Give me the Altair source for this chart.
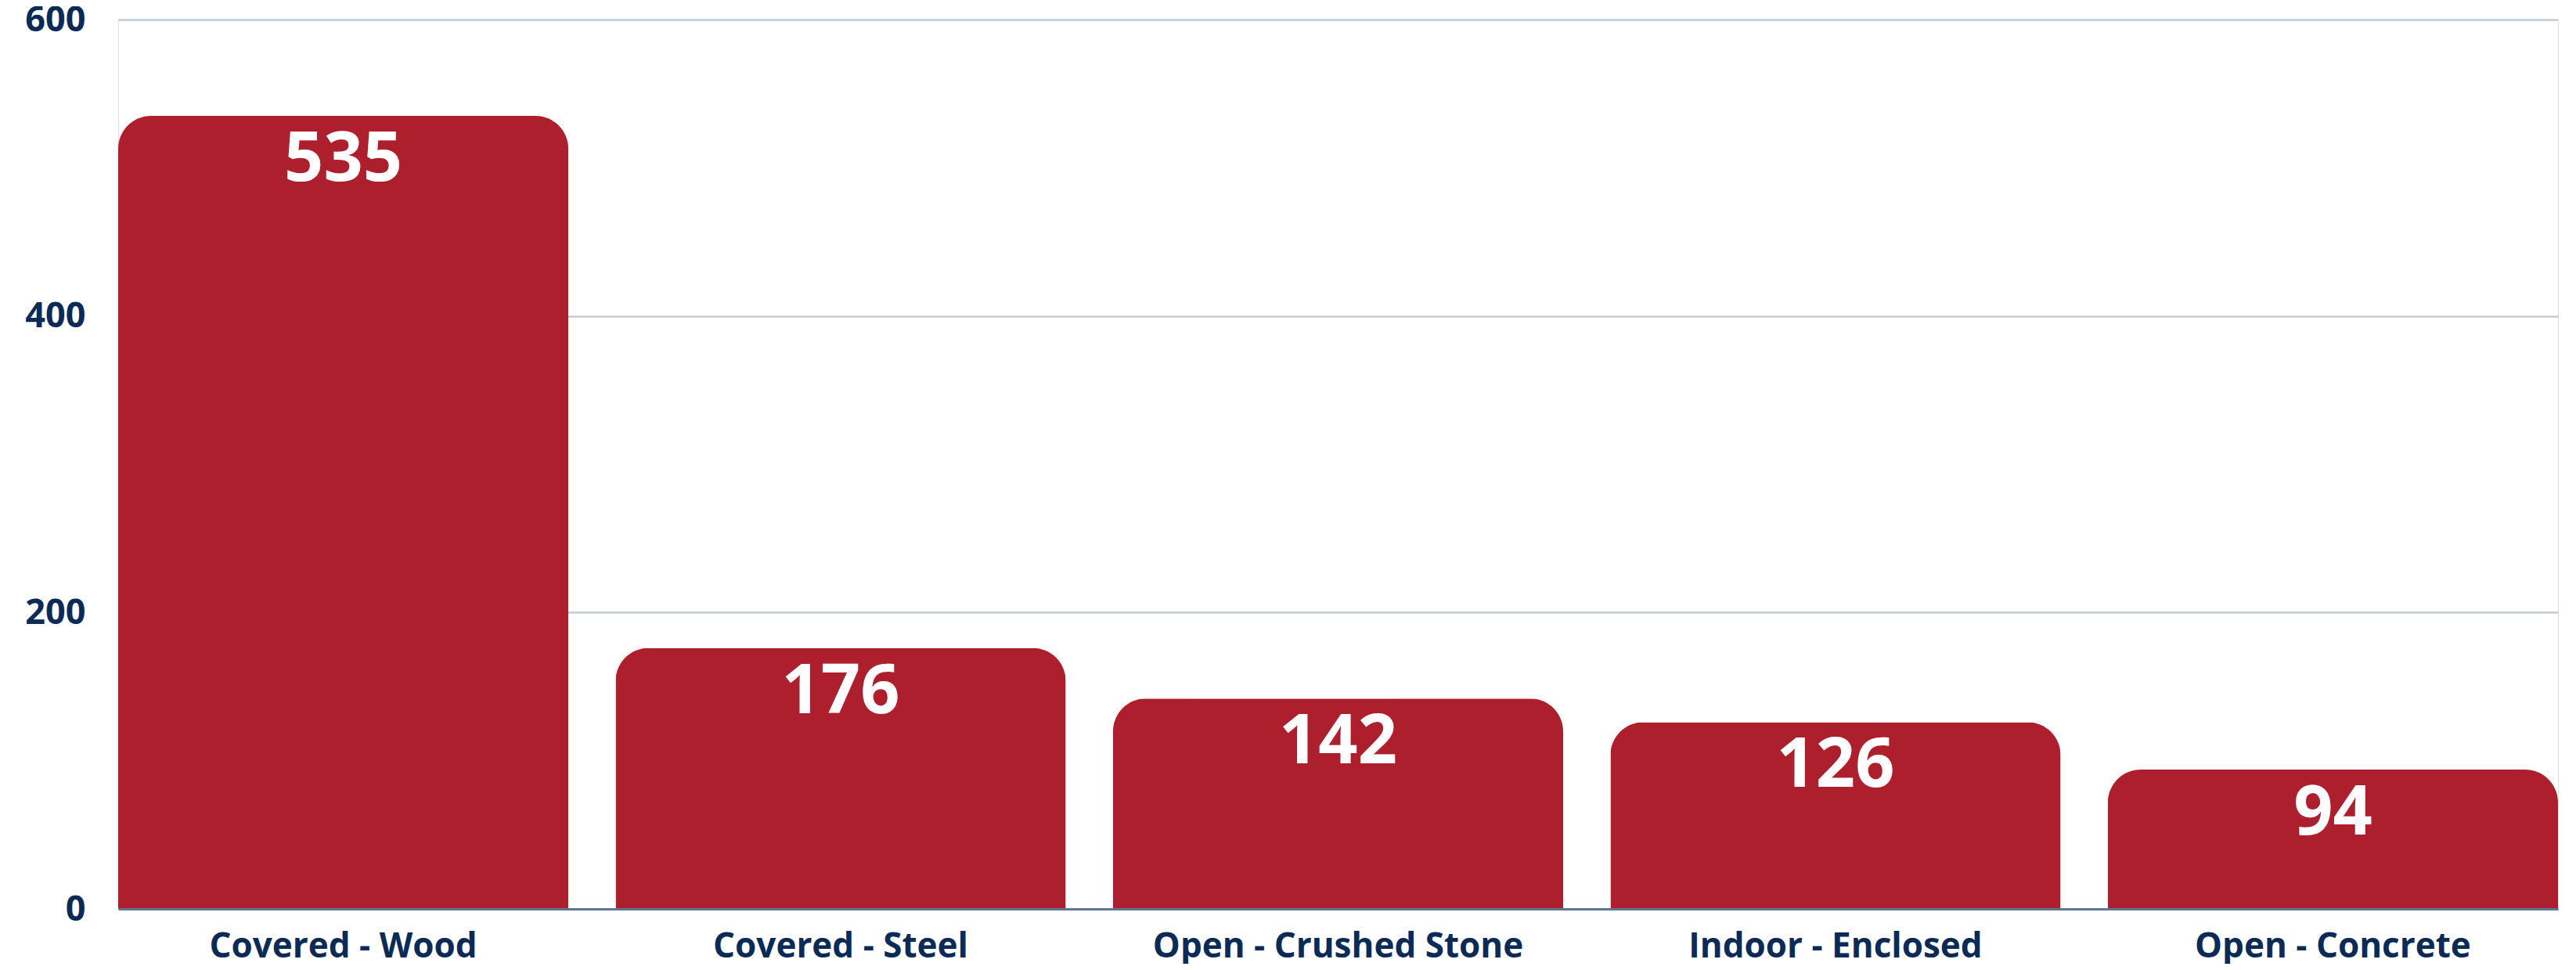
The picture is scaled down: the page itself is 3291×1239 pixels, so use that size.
import altair as alt
import pandas as pd

categories = ["Covered - Wood", "Covered - Steel", "Open - Crushed Stone", "Indoor - Enclosed", "Open - Concrete"]
values = [535, 176, 142, 126, 94]
y_ticks = [0, 200, 400, 600]

df = pd.DataFrame({"category": categories, "value": values})

BAR = "#AE1F2E"
NAVY = "#0B2A55"
FONT = "Open Sans"

x_enc = alt.X(
    "category:N",
    sort=None,
    title=None,
    scale=alt.Scale(paddingInner=0.095, paddingOuter=0),
    axis=alt.Axis(
        labelAngle=0,
        labelFont=FONT,
        labelFontSize=44,
        labelFontWeight="bold",
        labelColor=NAVY,
        labelPadding=26,
        labelLimit=0,
        ticks=False,
        domain=True,
        domainColor="#5E7594",
        domainWidth=3,
        grid=False,
        zindex=1,
    ),
)

y_enc = alt.Y(
    "value:Q",
    title=None,
    scale=alt.Scale(domain=[0, 600], nice=False),
    axis=alt.Axis(
        values=y_ticks,
        labelFont=FONT,
        labelFontSize=45,
        labelFontWeight="bold",
        labelColor=NAVY,
        labelPadding=42,
        labelFlush=False,
        labelLimit=0,
        ticks=False,
        domain=False,
        grid=True,
        gridColor="#C3CBD6",
        gridWidth=2.5,
    ),
)

bars = alt.Chart(df).mark_bar(
    color=BAR,
    cornerRadiusTopLeft=42,
    cornerRadiusTopRight=42,
).encode(x=x_enc, y=y_enc)

labels = alt.Chart(df).mark_text(
    color="white",
    font=FONT,
    fontSize=88,
    fontWeight="bold",
    baseline="middle",
    align="center",
    dy=57,
).encode(
    x=alt.X("category:N", sort=None),
    y=alt.Y("value:Q"),
    text=alt.Text("value:Q"),
)

chart = (
    alt.layer(bars, labels)
    .properties(
        width=3117,
        height=1136,
        autosize=alt.AutoSizeParams(type="none"),
        padding={"left": 143, "top": 17, "right": 15, "bottom": 70},
    )
    .configure_view(stroke=None)
    .configure(background="white")
)

chart.save("out.html", embed_options={"renderer": "svg", "actions": False})
